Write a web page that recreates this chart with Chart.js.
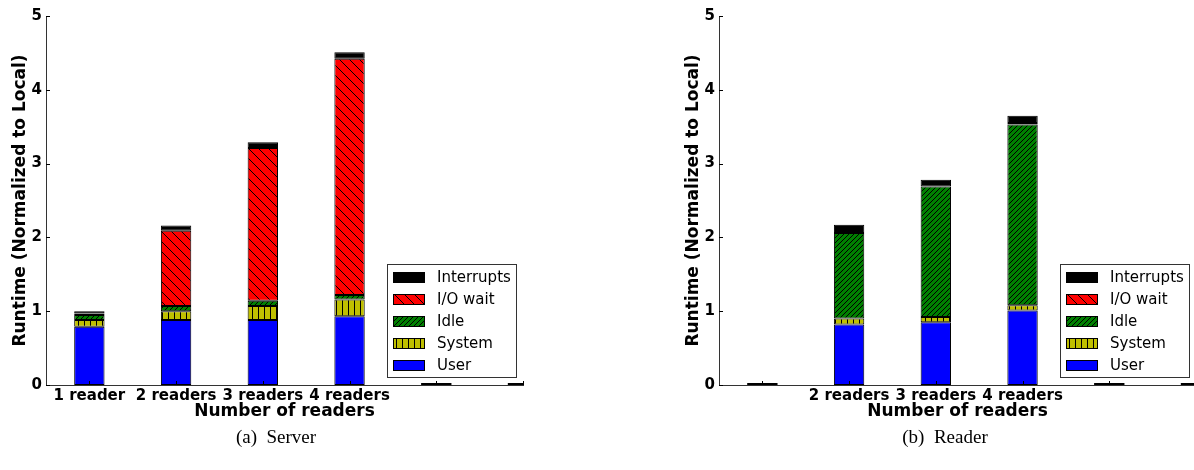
<!DOCTYPE html>
<html><head><meta charset="utf-8">
<script src="https://cdn.jsdelivr.net/npm/chart.js@4/dist/chart.umd.min.js"></script>
<style>
html,body{margin:0;padding:0;background:#fff;width:1194px;height:470px;overflow:hidden;position:relative}
canvas{position:absolute;top:0}
#c1{left:0}
#c2{left:673px}
.cap{position:absolute;top:426px;line-height:22px;font-family:"Liberation Serif","DejaVu Serif",serif;font-size:19px;color:#000;white-space:pre;transform:translateX(-50%)}
</style></head><body>
<canvas id="c1" width="560" height="430"></canvas>
<canvas id="c2" width="560" height="430"></canvas>
<div class="cap" style="left:276px">(a)  Server</div>
<div class="cap" style="left:945px">(b)  Reader</div>
<script>
// ---- data ----
const seriesNames = ['User', 'System', 'Idle', 'I/O wait', 'Interrupts'];
const positions = [0, 1, 2, 3, 4, 5];
const yTicks = [0, 1, 2, 3, 4, 5];
const serverTickLabels = ['1 reader', '2 readers', '3 readers', '4 readers', '', ''];
const readerTickLabels = ['', '2 readers', '3 readers', '4 readers', '', ''];

const serverUser       = [0.79, 0.88, 0.88, 0.93, 0, 0];
const serverSystem     = [0.09, 0.12, 0.19, 0.23, 0, 0];
const serverIdle       = [0.07, 0.07, 0.07, 0.06, 0, 0];
const serverIOWait     = [0.02, 1.02, 2.07, 3.20, 0, 0];
const serverInterrupts = [0.03, 0.07, 0.08, 0.09, 0, 0];
const serverEmpty      = [null, null, null, null, 0, 0];

const readerUser       = [0, 0.82, 0.85, 1.01, 0, 0];
const readerSystem     = [0, 0.08, 0.07, 0.07, 0, 0];
const readerIdle       = [0, 1.16, 1.77, 2.45, 0, 0];
const readerIOWait     = [0, 0.00, 0.00, 0.02, 0, 0];
const readerInterrupts = [0, 0.11, 0.09, 0.10, 0, 0];
const readerEmpty      = [0, null, null, null, 0, 0];

// ---- styles ----
Chart.defaults.font.family = '"DejaVu Sans", sans-serif';
const pctx = document.getElementById('c1').getContext('2d');
function makePattern(bg, kind, step) {
  const c = document.createElement('canvas');
  c.width = step; c.height = step;
  const g = c.getContext('2d');
  g.fillStyle = bg; g.fillRect(0, 0, step, step);
  if (kind) {
    g.strokeStyle = '#000'; g.lineWidth = 1; g.beginPath();
    if (kind === '|') { g.moveTo(0.5, 0); g.lineTo(0.5, step); }
    else if (kind === '/') {
      g.moveTo(-1, step + 1); g.lineTo(step + 1, -1);
      g.moveTo(-1, 1); g.lineTo(1, -1);
      g.moveTo(step - 1, step + 1); g.lineTo(step + 1, step - 1);
    } else if (kind === '\\') {
      g.moveTo(-1, -1); g.lineTo(step + 1, step + 1);
      g.moveTo(step - 1, -1); g.lineTo(step + 1, 1);
      g.moveTo(-1, step - 1); g.lineTo(1, step + 1);
    }
    g.stroke();
  }
  return pctx.createPattern(c, 'repeat');
}
const fills = [
  '#0000ff',
  makePattern('#bfbf00', '|', 6),
  makePattern('#008000', '/', 5),
  makePattern('#ff0000', '\\', 10),
  '#000000'
];

const inwardTicks = {
  id: 'inwardTicks',
  afterDatasetsDraw(chart) {
    const { ctx, chartArea, scales: { x, y } } = chart;
    ctx.save();
    ctx.strokeStyle = '#000'; ctx.lineWidth = 1; ctx.beginPath();
    yTicks.forEach(v => {
      const py = Math.round(y.getPixelForValue(v)) + 0.5;
      ctx.moveTo(chartArea.left, py); ctx.lineTo(chartArea.left + 4, py);
    });
    positions.forEach(v => {
      const px = Math.round(x.getPixelForValue(v)) + 0.5;
      if (px <= chartArea.right + 1) { ctx.moveTo(px, chartArea.bottom); ctx.lineTo(px, chartArea.bottom - 4); }
    });
    ctx.stroke(); ctx.restore();
  }
};

const boxLegend = {
  id: 'boxLegend',
  afterDraw(chart) {
    const { ctx, chartArea } = chart;
    const items = chart.data.datasets.filter(d => !d.hideInLegend).slice().reverse();
    const w = 129, h = 113, rowH = 22;
    const right = chartArea.right - 7, bottom = chartArea.bottom - 8;
    const left = right - w, top = bottom - h;
    ctx.save();
    ctx.fillStyle = '#fff'; ctx.fillRect(left, top, w, h);
    ctx.strokeStyle = '#333'; ctx.lineWidth = 1; ctx.strokeRect(left + 0.5, top + 0.5, w, h);
    ctx.font = '15px "DejaVu Sans"'; ctx.textBaseline = 'middle'; ctx.textAlign = 'left';
    items.forEach((d, i) => {
      const cy = Math.round(top + 13 + i * rowH);
      ctx.fillStyle = d.backgroundColor; ctx.fillRect(left + 6, cy - 5, 32, 11);
      ctx.strokeStyle = '#000'; ctx.strokeRect(left + 6.5, cy - 4.5, 31, 10);
      ctx.fillStyle = '#000'; ctx.fillText(d.label, left + 50, cy + 1);
    });
    ctx.restore();
  }
};

function toPoints(arr) { return arr.map((v, i) => ({ x: positions[i], y: v })); }

function makeConfig(tickLabels, series, empty) {
  const datasets = series.map((arr, k) => ({
    label: seriesNames[k],
    data: toPoints(arr),
    backgroundColor: fills[k],
    borderColor: '#000',
    borderWidth: 1,
    borderSkipped: false,
    barPercentage: 0.35,
    categoryPercentage: 1,
    clip: 0
  }));
  datasets.push({
    label: '', hideInLegend: true,
    data: toPoints(empty),
    backgroundColor: '#000', borderWidth: 0,
    minBarLength: 2, barPercentage: 0.35, categoryPercentage: 1,
    clip: { left: 0, top: 0, right: 0, bottom: 2 }
  });
  const tickFont = { family: '"DejaVu Sans"', size: 15, weight: 'bold' };
  const titleFont = { family: '"DejaVu Sans"', size: 17, weight: 'bold' };
  return {
    type: 'bar',
    data: { datasets },
    options: {
      responsive: false, animation: false, devicePixelRatio: 1,
      layout: { padding: { left: 0, top: 16, right: 37, bottom: 0 } },
      plugins: { legend: { display: false }, tooltip: { enabled: false } },
      scales: {
        x: {
          type: 'linear', stacked: true, min: -0.5, max: 5, offset: false,
          afterBuildTicks: s => { s.ticks = positions.map(v => ({ value: v })); },
          ticks: { callback: v => tickLabels[v] ?? '', font: tickFont, color: '#000', padding: 2, maxRotation: 0, autoSkip: false },
          grid: { display: false, drawTicks: false },
          border: { display: true, color: '#333', width: 1 },
          title: { display: true, text: 'Number of readers', font: titleFont, color: '#000', padding: { top: 0, bottom: 8 } },
          afterFit: s => { s.height = 45; }
        },
        y: {
          stacked: true, min: 0, max: 5,
          afterBuildTicks: s => { s.ticks = yTicks.map(v => ({ value: v })); },
          ticks: { font: tickFont, color: '#000', padding: 4 },
          grid: { display: false, drawTicks: false },
          border: { display: true, color: '#333', width: 1 },
          title: { display: true, text: 'Runtime (Normalized to Local)', font: titleFont, color: '#000', padding: { top: 10, bottom: 0 } },
          afterFit: s => { s.width = 46; }
        }
      }
    },
    plugins: [inwardTicks, boxLegend]
  };
}

new Chart(document.getElementById('c1'), makeConfig(serverTickLabels,
  [serverUser, serverSystem, serverIdle, serverIOWait, serverInterrupts], serverEmpty));
new Chart(document.getElementById('c2'), makeConfig(readerTickLabels,
  [readerUser, readerSystem, readerIdle, readerIOWait, readerInterrupts], readerEmpty));
</script>
</body></html>
